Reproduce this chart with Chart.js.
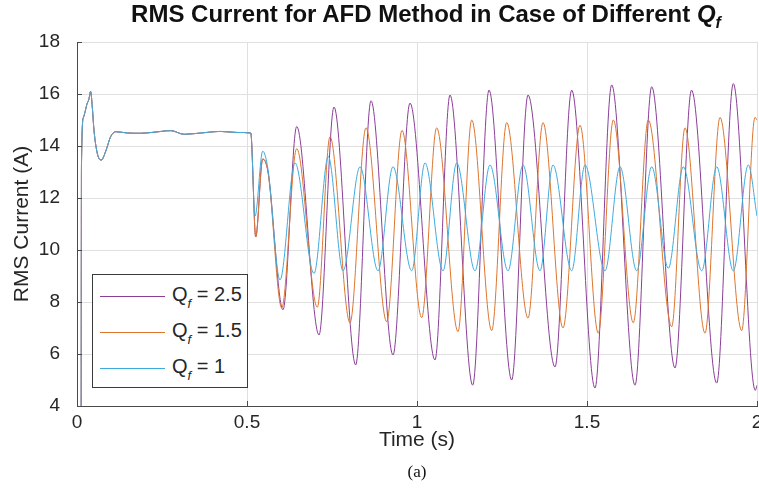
<!DOCTYPE html>
<html>
<head>
<meta charset="utf-8">
<script src="https://cdn.jsdelivr.net/npm/chart.js@4.4.1/dist/chart.umd.min.js"></script>
<style>
    body { margin: 0; background: #fff; }
    #wrap { position: relative; width: 759px; height: 490px; overflow: hidden; font-family: 'Liberation Sans', Arial, sans-serif; color: #262626; }
    #myChart { position: absolute; left: 0; top: 0; }
    .title { position: absolute; left: 0; width: 852px; top: 2px; text-align: center; font-weight: bold; font-size: 24px; line-height: 24px; color: #111; white-space: nowrap; }
    .title sub { font-size: 16px; vertical-align: -6px; }
    .legend { position: absolute; left: 92px; top: 274px; width: 156px; height: 114px; border: 1px solid #3a3a3a; background: #fff; box-sizing: border-box; }
    .legend .row { position: absolute; left: 0; height: 20px; }
    .legend .swatch { position: absolute; left: 7px; top: 10px; width: 65px; height: 1px; }
    .legend .lbl { position: absolute; left: 79px; top: -2px; font-size: 20px; line-height: 20px; white-space: nowrap; }
    .legend sub { font-size: 13px; font-style: italic; vertical-align: -7px; }
    .caption { position: absolute; left: 0; width: 834px; top: 463px; text-align: center; font-family: 'Liberation Serif', 'Times New Roman', serif; font-size: 17px; line-height: 17px; color: #111; }
</style>
</head>
<body>
<div id="wrap">
    <canvas id="myChart" width="759" height="490"></canvas>
    <div class="title">RMS Current for AFD Method in Case of Different <i>Q<sub>f</sub></i></div>
    <div class="legend">
        <div class="row" style="top: 11px"><div class="swatch" style="background:#8b3e98"></div><div class="lbl">Q<sub>f</sub> = 2.5</div></div>
        <div class="row" style="top: 47px"><div class="swatch" style="background:#dd7530"></div><div class="lbl">Q<sub>f</sub> = 1.5</div></div>
        <div class="row" style="top: 83px"><div class="swatch" style="background:#3faadd"></div><div class="lbl">Q<sub>f</sub> = 1</div></div>
    </div>
    <div class="caption">(a)</div>
</div>
<script>
// start-up part, the same for all three cases (s, A)
const commonT = [0.012, 0.0132, 0.019, 0.0235, 0.029, 0.035, 0.040, 0.045, 0.050, 0.060, 0.0715, 0.084, 0.099, 0.114, 0.148, 0.187, 0.226, 0.276, 0.315, 0.364, 0.423, 0.471, 0.511];
const commonV = [0, 13.3, 15.1, 15.3, 15.6, 15.8, 16.1, 15.5, 14.6, 13.7, 13.46, 13.78, 14.36, 14.55, 14.5, 14.49, 14.53, 14.59, 14.45, 14.5, 14.56, 14.52, 14.5];

// Qf = 2.5
const qf25T = [0.5256, 0.5462, 0.5618, 0.6059, 0.6462, 0.7118, 0.7559, 0.8197, 0.8647, 0.9294, 0.9794, 1.0529, 1.0971, 1.1638, 1.2118, 1.2785, 1.3265, 1.4059, 1.4550, 1.5235, 1.5726, 1.6412, 1.6903, 1.7588, 1.8074, 1.8815, 1.9303, 1.995, 2.0];
const qf25V = [10.5, 13.5, 13.0, 7.7, 14.75, 6.73, 15.5, 5.58, 15.74, 5.96, 15.65, 5.77, 15.96, 4.8, 16.15, 5.0, 15.96, 5.5, 16.15, 4.69, 16.35, 4.8, 16.28, 5.46, 16.15, 4.88, 16.4, 4.6, 4.8];

// Qf = 1.5
const qf15T = [0.5256, 0.5462, 0.5618, 0.6021, 0.6462, 0.7068, 0.7441, 0.8029, 0.85, 0.9109, 0.9559, 1.0138, 1.0579, 1.1206, 1.1609, 1.2197, 1.2638, 1.3265, 1.3706, 1.4294, 1.4794, 1.5332, 1.5774, 1.6362, 1.6803, 1.7491, 1.7882, 1.8471, 1.8912, 1.9550, 1.9941, 2.0];
const qf15V = [10.5, 13.5, 13.0, 7.77, 13.9, 7.8, 14.36, 7.2, 14.7, 7.24, 14.6, 7.4, 14.7, 6.86, 15.0, 6.9, 14.9, 7.38, 14.9, 7.0, 14.8, 6.8, 15.0, 7.2, 15.0, 7.05, 14.7, 6.8, 15.1, 6.9, 15.1, 15.0];

// Qf = 1
const qf1T = [0.5235, 0.5462, 0.5618, 0.5971, 0.6412, 0.6971, 0.7391, 0.7824, 0.8324, 0.8853, 0.9294, 0.9844, 1.0235, 1.0765, 1.1168, 1.1706, 1.2147, 1.2676, 1.3118, 1.3618, 1.4000, 1.4550, 1.4941, 1.5529, 1.5971, 1.6462, 1.6903, 1.7391, 1.7832, 1.8374, 1.8815, 1.9303, 1.9744, 2.0];
const qf1V = [11.3, 13.8, 13.1, 8.85, 13.35, 9.1, 13.6, 9.2, 13.2, 9.2, 13.2, 9.2, 13.35, 9.2, 13.35, 9.2, 13.27, 9.2, 13.27, 9.2, 13.27, 9.2, 13.27, 9.2, 13.2, 9.2, 13.2, 9.3, 13.2, 9.2, 13.2, 9.2, 13.27, 11.3];

const xTicks = [0, 0.5, 1, 1.5, 2];
const yTicks = [4, 6, 8, 10, 12, 14, 16, 18];

const axisColor = "#4a4a4a";
const textColor = "#262626";
const gridColor = "#e0e0e0";

function toPoints(t, v) {
    let pts = [];
    for (let i = 0; i < commonT.length; i++) {
        pts.push({x: commonT[i], y: commonV[i]});
    }
    for (let i = 0; i < t.length; i++) {
        pts.push({x: t[i], y: v[i]});
    }
    return pts;
}

// MATLAB style ticks pointing into the axes
const innerTicks = {
    id: 'innerTicks',
    afterDatasetsDraw(chart) {
        const {ctx, chartArea, scales} = chart;
        ctx.save();
        ctx.strokeStyle = axisColor;
        ctx.lineWidth = 1;
        ctx.beginPath();
        scales.x.ticks.forEach(t => {
            let px = Math.round(scales.x.getPixelForValue(t.value)) + 0.5;
            ctx.moveTo(px, chartArea.bottom);
            ctx.lineTo(px, chartArea.bottom - 5);
        });
        scales.y.ticks.forEach(t => {
            let py = Math.round(scales.y.getPixelForValue(t.value)) + 0.5;
            ctx.moveTo(chartArea.left, py);
            ctx.lineTo(chartArea.left + 5, py);
        });
        ctx.stroke();
        ctx.restore();
    }
};

Chart.defaults.font.family = "'Liberation Sans', Arial, sans-serif";
Chart.defaults.color = textColor;

const ctx = document.getElementById('myChart');

new Chart(ctx, {
    type: 'line',
    data: {
        datasets: [
            { label: 'Qf = 2.5', data: toPoints(qf25T, qf25V), borderColor: '#8b3e98', order: 3 },
            { label: 'Qf = 1.5', data: toPoints(qf15T, qf15V), borderColor: '#dd7530', order: 2 },
            { label: 'Qf = 1', data: toPoints(qf1T, qf1V), borderColor: '#3faadd', order: 1 }
        ]
    },
    options: {
        responsive: false,
        animation: false,
        layout: { padding: { top: 42, right: 2, left: 0, bottom: 0 } },
        elements: {
            point: { radius: 0 },
            line: { borderWidth: 1, cubicInterpolationMode: 'monotone' }
        },
        plugins: {
            legend: { display: false },
            tooltip: { enabled: false }
        },
        scales: {
            x: {
                type: 'linear',
                min: 0,
                max: 2,
                afterFit: function (scale) {
                    scale.height = 84;
                    scale.paddingLeft = 0;
                    scale.paddingRight = 0;
                },
                afterBuildTicks: function (scale) {
                    scale.ticks = xTicks.map(v => ({ value: v }));
                },
                ticks: {
                    padding: 5, maxRotation: 0, autoSkip: false, color: textColor, font: { size: 19 },
                    callback: function (value) { return String(value); }
                },
                grid: { color: gridColor, drawTicks: false },
                border: { color: axisColor },
                title: { display: true, text: 'Time (s)', color: textColor, font: { size: 21 }, padding: { top: 0, bottom: 37 } }
            },
            y: {
                min: 4,
                max: 18,
                afterFit: function (scale) {
                    scale.width = 77;
                    scale.paddingTop = 0;
                    scale.paddingBottom = 0;
                },
                afterBuildTicks: function (scale) {
                    scale.ticks = yTicks.map(v => ({ value: v }));
                },
                ticks: {
                    padding: 17, color: textColor, font: { size: 19 },
                    callback: function (value) { return String(value); }
                },
                grid: { color: gridColor, drawTicks: false },
                border: { color: axisColor },
                title: { display: true, text: 'RMS Current (A)', color: textColor, font: { size: 21 }, padding: { top: 10, bottom: 0 } }
            }
        }
    },
    plugins: [innerTicks]
});
</script>
</body>
</html>
